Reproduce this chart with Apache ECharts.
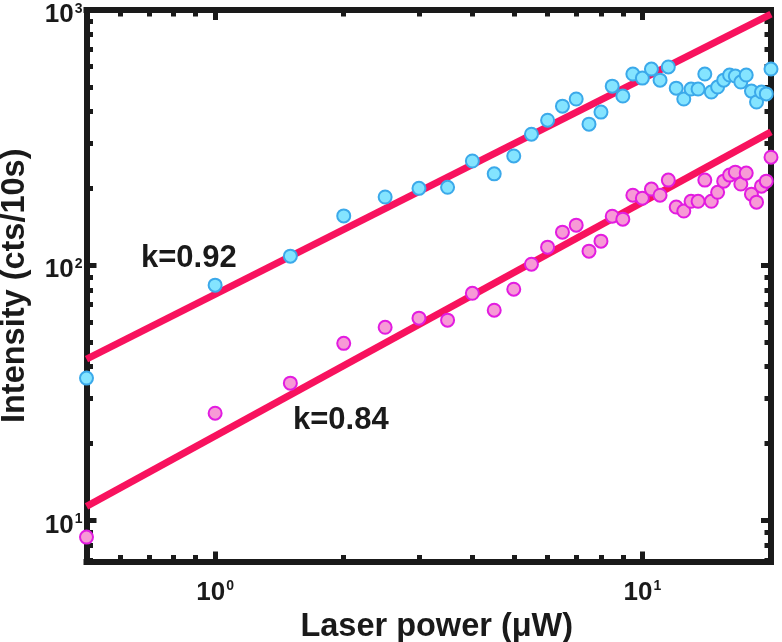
<!DOCTYPE html>
<html>
<head>
<meta charset="utf-8">
<script src="https://cdn.jsdelivr.net/npm/echarts@6/dist/echarts.min.js"></script>
<style>
html,body{margin:0;padding:0;background:#fff;}
#chart{width:782px;height:642px;}
</style>
</head>
<body>
<div id="chart"></div>
<script>
// ---- data ----
const laserPower = [0.5, 1, 1.5, 2, 2.5, 3, 3.5, 4, 4.5, 5, 5.5, 6, 6.5, 7, 7.5, 8, 8.5, 9, 9.5, 10,
  10.5, 11, 11.5, 12, 12.5, 13, 13.5, 14, 14.5, 15, 15.5, 16, 16.5, 17, 17.5, 18, 18.5, 19, 19.5, 20];
const cyanIntensity = [36.1, 83.5, 108.5, 156, 185, 200, 202, 256, 228, 268,
  326, 370, 420, 448, 357, 398, 503, 460, 561, 541,
  587, 531, 598, 494, 448, 490, 490, 561, 477, 499,
  531, 556, 551, 522, 556, 481, 436, 477, 469, 587];
const magentaIntensity = [8.6, 26.3, 34.5, 49.4, 57.1, 62.0, 60.9, 77.6, 66.6, 80.5,
  100.9, 117.7, 134.7, 143.5, 113.5, 124.2, 155.6, 151.5, 188, 183,
  198.7, 188, 215.5, 169, 163, 178, 178, 215.5, 178, 193,
  213.5, 225.4, 231.5, 208, 229.5, 189.8, 176.6, 204, 213.5, 265];
const fitX = [0.5, 20];
const fitUpper = [42.8, 964];
const fitLower = [11.35, 333];
const labelUpper = 'k=0.92';
const labelLower = 'k=0.84';
const xMajorTicks = [1, 10];
const xMinorTicks = [0.6, 0.7, 0.8, 0.9, 2, 3, 4, 5, 6, 7, 8, 9];
const yMajorTicks = [10, 100, 1000];
const yMinorTicks = [7, 8, 9, 20, 30, 40, 50, 60, 70, 80, 90, 200, 300, 400, 500, 600, 700, 800, 900];
const xRange = [0.5, 20];
const yRange = [6.9, 1000];
const xTitle = 'Laser power (μW)';
const yTitle = 'Intensity (cts/10s)';

// ---- chart ----
const INK = '#1a1a1a';
const FONT = '"Liberation Sans", Arial, sans-serif';
const pow10 = v => '{b|10}{s|' + Math.round(Math.log10(v)) + '}';
const richLbl = {
  b: {fontSize: 26, fontWeight: 'bold', color: INK, fontFamily: FONT},
  s: {fontSize: 14, fontWeight: 'bold', color: INK, fontFamily: FONT, verticalAlign: 'top', padding: [0, 0, 0, 1]}
};
function mkAxis(kind, pos, range, ticks, major, withLabel, showLine, name) {
  const a = {
    type: 'log', logBase: 10, position: pos, min: range[0], max: range[1],
    splitLine: {show: false},
    axisLine: {show: showLine, onZero: false, lineStyle: {color: INK, width: 6, cap: 'square'}},
    axisTick: {show: true, inside: true, customValues: ticks, length: major ? 10 : 6.5,
      lineStyle: {color: INK, width: 5}},
    axisLabel: withLabel ? {show: true, customValues: ticks, formatter: pow10, rich: richLbl,
      fontSize: 26, fontWeight: 'bold', color: INK, fontFamily: FONT,
      padding: kind === 'x' ? 0 : [10, 0, 0, 0],
      margin: kind === 'x' ? 18 : 4} : {show: false},
    minorTick: {show: false}
  };
  if (name) {
    a.name = name;
    a.nameLocation = 'middle';
    a.nameGap = kind === 'x' ? 45 : 55;
    a.nameTextStyle = {fontSize: 32.5, fontWeight: 'bold', color: INK, fontFamily: FONT,
      padding: kind === 'x' ? [0, 0, 0, 16] : 0};
  }
  return a;
}
const chart = echarts.init(document.getElementById('chart'), null, {renderer: 'canvas'});
chart.setOption({
  animation: false,
  backgroundColor: '#fff',
  grid: {left: 86.5, right: 11, top: 10, bottom: 80.5, containLabel: false, outerBoundsMode: 'none'},
  xAxis: [
    mkAxis('x', 'bottom', xRange, xMajorTicks, true, true, true, xTitle),
    mkAxis('x', 'bottom', xRange, xMinorTicks, false, false, false),
    mkAxis('x', 'top', xRange, xMajorTicks, true, false, true),
    mkAxis('x', 'top', xRange, xMinorTicks, false, false, false)
  ],
  yAxis: [
    mkAxis('y', 'left', yRange, yMajorTicks, true, true, true, yTitle),
    mkAxis('y', 'left', yRange, yMinorTicks, false, false, false),
    mkAxis('y', 'right', yRange, yMajorTicks, true, false, true),
    mkAxis('y', 'right', yRange, yMinorTicks, false, false, false)
  ],
  series: [
    {type: 'line', xAxisIndex: 0, yAxisIndex: 0, data: fitX.map((x, i) => [x, fitUpper[i]]),
      symbol: 'none', lineStyle: {color: '#f8125e', width: 7}, z: 3},
    {type: 'line', xAxisIndex: 0, yAxisIndex: 0, data: fitX.map((x, i) => [x, fitLower[i]]),
      symbol: 'none', lineStyle: {color: '#f8125e', width: 7}, z: 3},
    {type: 'scatter', xAxisIndex: 0, yAxisIndex: 0, clip: false, symbolSize: 13,
      data: laserPower.map((x, i) => [x, cyanIntensity[i]]),
      itemStyle: {color: '#84e4ff', borderColor: '#3ba9ea', borderWidth: 2, opacity: 1}, z: 5},
    {type: 'scatter', xAxisIndex: 0, yAxisIndex: 0, clip: false, symbolSize: 13,
      data: laserPower.map((x, i) => [x, magentaIntensity[i]]),
      itemStyle: {color: '#f79ad6', borderColor: '#e21ce0', borderWidth: 2, opacity: 1}, z: 5}
  ],
  graphic: [
    {type: 'text', left: 141, top: 243, style: {text: labelUpper, fontSize: 31, fontWeight: 'bold', fill: INK, fontFamily: FONT}},
    {type: 'text', left: 293, top: 405, style: {text: labelLower, fontSize: 31, fontWeight: 'bold', fill: INK, fontFamily: FONT}}
  ]
});
</script>
</body>
</html>
